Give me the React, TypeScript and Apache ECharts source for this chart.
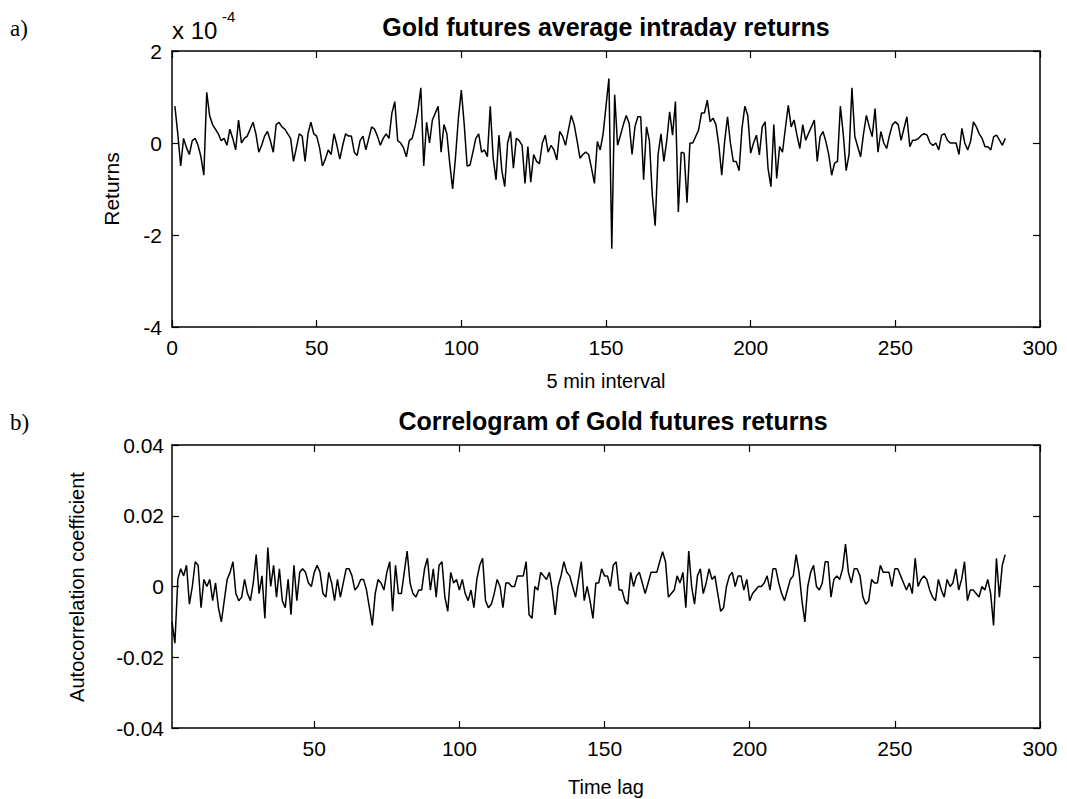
import React, { useEffect, useRef } from "react";
import * as echarts from "echarts";

// Average intraday 5-minute returns of gold futures, in units of 1e-4 (interval 1..288)
const returnsE4: number[] = [
  0.8, 0.2, -0.5, 0.1, -0.1, -0.25, 0.05, 0.1, -0.05, -0.3, -0.7, 1.1, 0.6, 0.4, 0.3, 0.2, 0.05, 0.1, -0.05, 0.3,
  0.1, -0.15, 0.5, 0.0, 0.1, 0.15, 0.3, 0.45, 0.2,
  -0.2, -0.05, 0.15, 0.25, 0.05, -0.2, 0.4, 0.45, 0.35, 0.3, 0.2, 0.1, -0.4, -0.1, 0.2, 0.15, -0.4, 0.2, 0.45, 0.2,
  0.15, -0.1, -0.5, -0.35, -0.15, -0.25, 0.2, -0.05, -0.35,
  -0.05, 0.2, 0.15, 0.15, -0.2, -0.27, 0.05, 0.15, -0.15, 0.1, 0.35, 0.3,
  0.15, -0.05, 0.1, 0.2, 0.1, 0.65, 0.9, 0.05, 0.0, -0.1, -0.3, 0.05, 0.1, 0.35, 0.7, 1.2, -0.5, 0.45, 0.0, 0.5,
  0.65, 0.8, -0.2, 0.4, 0.2, -0.45, -1.0, -0.3, 0.55, 1.15, 0.4, -0.5, -0.48, -0.2, 0.1,
  0.2, -0.2, -0.15, -0.3, 0.8, -0.33, -0.8, 0.17, -0.6, -0.95,
  0.0, 0.25, -0.55, 0.1, 0.05, -0.05, -0.88, -0.08, -0.85, -0.25, -0.4, -0.45, 0.0, 0.17, -0.2, -0.05, -0.15,
  -0.37, 0.25, 0.15, -0.05, 0.28, 0.6, 0.4, 0.05, -0.33,
  -0.25, -0.2, -0.25, -0.55, -0.88, 0.03, -0.15, 0.2, 0.8, 1.4, -2.3, 1.05, -0.05, 0.17, 0.4, 0.6, 0.43, -0.25,
  0.35, 0.57, 0.57, -0.8, 0.35, 0.05, -1.13, -1.8, -0.25, 0.2, -0.4, 0.05,
  0.68,
  0.17, 0.9, -1.5, -0.2, -0.22, -1.3, 0.0, 0.0, 0.14, 0.28, 0.65, 0.65, 0.93, 0.46, 0.54, 0.4, -0.05, -0.7, 0.03,
  0.57, 0.0, -0.4, -0.4, -0.6, 0.32, 0.8, 0.6, -0.22, 0.0, 0.17, -0.26, 0.35, 0.46, -0.55, -0.95, 0.4, -0.77,
  -0.08, -0.2, 0.32, 0.82, 0.35, 0.5, 0.17, -0.12, 0.4, 0.06, 0.21, 0.35, 0.5, -0.4, 0.14, 0.25, 0.03, -0.26,
  -0.7, -0.44,
  -0.4, 0.8, 0.2, -0.6, -0.25, 1.2, 0.14, -0.08, -0.3, 0.2, 0.6, 0.35, 0.14, 0.75, -0.2, 0.25, 0.0, -0.12, 0.17,
  0.4, 0.46, 0.4, 0.06, 0.32, 0.57, -0.08, 0.06, 0.06, 0.1, 0.17, 0.2, 0.17, 0.0, -0.05, 0.0, -0.15, 0.17, 0.2,
  0.06, 0.0, 0.0, 0.0, -0.25, 0.32, 0.0, -0.15, 0.03, 0.46, 0.35, 0.2, 0.1, -0.08, -0.08, -0.15, 0.14, 0.17,
  0.06, -0.05, 0.1,
];

// Autocorrelation coefficients of the returns, lags 1..288
const autocorr: number[] = [
  -0.010, -0.016, 0.002, 0.005, 0.003, 0.006, -0.005, 0.0, 0.007, 0.006,
  -0.006, 0.002, 0.0, 0.002, -0.004, 0.001, -0.006, -0.010, -0.004, 0.002,
  0.004, 0.007, -0.002, -0.004, -0.003, 0.002, -0.002, -0.004, 0.001, 0.009,
  -0.002, 0.003, -0.009, 0.011, 0.0, 0.006, -0.003, 0.005, -0.004, -0.006,
  0.002, -0.008, 0.006, -0.004, 0.004, 0.005, 0.004, 0.001, 0.0, 0.004,
  0.006, 0.004, -0.002, -0.003, 0.004, 0.001, -0.004, 0.002,
  -0.003, 0.001, 0.005, 0.005, 0.003, -0.001, 0.0, 0.002, 0.002, -0.001,
  -0.006, -0.011, -0.002, 0.002, 0.001, -0.001, 0.004, 0.007, -0.007, 0.006,
  -0.002, -0.002, 0.004, 0.010, 0.001, -0.002, -0.003, -0.001, -0.001, 0.005,
  0.008, -0.001, 0.005, -0.003, 0.006, 0.007, -0.003, -0.007, 0.004, 0.001,
  0.002, -0.001, 0.002, -0.002, -0.004, -0.001, -0.006, 0.002, 0.006, 0.008,
  -0.004, -0.006, -0.005, -0.002, 0.002, 0.0, -0.006,
  0.001, 0.001, 0.0, 0.0, 0.003, 0.003, 0.003, 0.007, -0.008, -0.009,
  0.0, -0.001, 0.004, 0.003, 0.002, 0.004, -0.001, -0.008, 0.0, 0.003,
  0.007, 0.004, 0.003, 0.0, -0.003, 0.002, 0.007, -0.004, 0.0, -0.004,
  -0.009, 0.001, 0.001, 0.005, 0.003, 0.003, 0.0, 0.006, 0.007, -0.001,
  -0.001, -0.004, -0.005, 0.004, 0.0, 0.003, 0.004, 0.001, -0.002, 0.001,
  0.004, 0.004, 0.004, 0.007, 0.0098, 0.007, -0.003,
  -0.002, -0.001, 0.003, 0.001, 0.004, -0.006, 0.010, 0.0, -0.005, 0.003,
  0.005, -0.002, 0.001, 0.005, 0.002, 0.003, -0.002, -0.007, -0.006, 0.0,
  0.003, 0.004, 0.0, 0.003, 0.003, -0.001, 0.002, -0.004, -0.002, -0.001,
  0.0, 0.0, 0.001, 0.003, -0.001, 0.005, 0.005, 0.001, -0.002, -0.004,
  -0.001, 0.002, 0.003, 0.009, 0.004, -0.004, -0.010, 0.0, 0.004, 0.006,
  0.0, -0.001, 0.001, 0.007, 0.007, -0.003, 0.002,
  0.003, 0.002, 0.005, 0.012, 0.004, 0.001, 0.005, 0.005, 0.003, -0.003,
  -0.005, -0.004, 0.002, 0.001, 0.001, 0.006, 0.004, 0.004, 0.004, 0.0,
  0.005, 0.005, 0.003, 0.001, -0.001, 0.001, -0.002, 0.008, 0.0, 0.002,
  0.003, 0.002, -0.001, -0.003, -0.004, 0.002, -0.001, -0.003, 0.002, 0.0,
  0.001, 0.005, -0.001, 0.002, 0.007, -0.004, -0.001, -0.001, -0.002, -0.003,
  0.0, -0.001, 0.002, -0.002, -0.011, 0.008, -0.003, 0.006, 0.009,
];

const lagTicks: number[] = [50, 100, 150, 200, 250, 300];

const SANS = "'Liberation Sans', Arial, sans-serif";
const SERIF = "'Liberation Serif', 'Times New Roman', serif";

function label(text: string, x: number, y: number, extra: any = {}) {
  return {
    type: "text",
    x,
    y,
    rotation: extra.rotation || 0,
    silent: true,
    style: {
      text,
      fill: "#000",
      fontFamily: extra.fontFamily || SANS,
      fontSize: extra.fontSize || 20,
      fontWeight: extra.fontWeight || "normal",
      align: extra.align || "center",
      verticalAlign: "middle",
    },
  };
}

const axisLine = { show: true, onZero: false, lineStyle: { color: "#000", width: 1.5 } };
const tickStyle = { show: true, inside: true, length: 7, lineStyle: { color: "#000", width: 1.2 } };
const tickLabel = { color: "#000", fontFamily: SANS, fontSize: 21 };

export default function App() {
  const ref = useRef<HTMLDivElement>(null);

  useEffect(() => {
    if (!ref.current) return;
    const chart = echarts.init(ref.current, undefined, { renderer: "svg" });

    const retData = returnsE4.map((v, i) => [i + 1, v]);
    const acData = autocorr.map((v, i) => [i + 1, v]);

    const fmtCorr = (v: number) => {
      const s = (+v).toFixed(2);
      return s === "0.00" || s === "-0.00" ? "0" : s;
    };

    chart.setOption({
      animation: false,
      backgroundColor: "#fff",
      grid: [
        { left: 172, top: 51, width: 868, height: 276, containLabel: false },
        { left: 172, top: 445, width: 868, height: 283, containLabel: false },
      ],
      xAxis: [
        {
          gridIndex: 0, type: "value", min: 0, max: 300, interval: 50,
          axisLine, axisTick: tickStyle, splitLine: { show: false },
          axisLabel: { ...tickLabel, margin: 10 },
        },
        {
          gridIndex: 0, type: "value", position: "top", min: 0, max: 300, interval: 50,
          axisLine, axisTick: tickStyle, splitLine: { show: false }, axisLabel: { show: false },
        },
        {
          gridIndex: 1, type: "value", min: 1, max: 300,
          axisLine,
          axisTick: { ...tickStyle, customValues: lagTicks },
          splitLine: { show: false },
          axisLabel: { ...tickLabel, margin: 10, customValues: lagTicks },
        },
        {
          gridIndex: 1, type: "value", position: "top", min: 1, max: 300,
          axisLine,
          axisTick: { ...tickStyle, customValues: lagTicks },
          splitLine: { show: false },
          axisLabel: { show: false },
        },
      ],
      yAxis: [
        {
          gridIndex: 0, type: "value", min: -4, max: 2, interval: 2,
          axisLine, axisTick: tickStyle, splitLine: { show: false },
          axisLabel: { ...tickLabel, margin: 10 },
        },
        {
          gridIndex: 0, type: "value", position: "right", min: -4, max: 2, interval: 2,
          axisLine, axisTick: tickStyle, splitLine: { show: false }, axisLabel: { show: false },
        },
        {
          gridIndex: 1, type: "value", min: -0.04, max: 0.04, interval: 0.02,
          axisLine, axisTick: tickStyle, splitLine: { show: false },
          axisLabel: { ...tickLabel, margin: 8, formatter: fmtCorr },
        },
        {
          gridIndex: 1, type: "value", position: "right", min: -0.04, max: 0.04, interval: 0.02,
          axisLine, axisTick: tickStyle, splitLine: { show: false }, axisLabel: { show: false },
        },
      ],
      series: [
        {
          type: "line", xAxisIndex: 0, yAxisIndex: 0, data: retData,
          symbol: "none", showSymbol: false, lineStyle: { color: "#000", width: 1.5 },
        },
        {
          type: "line", xAxisIndex: 2, yAxisIndex: 2, data: acData,
          symbol: "none", showSymbol: false, lineStyle: { color: "#000", width: 1.5 },
        },
      ],
      graphic: [
        label("a)", 10, 28, { fontFamily: SERIF, fontSize: 23, align: "left" }),
        label("b)", 10, 422, { fontFamily: SERIF, fontSize: 23, align: "left" }),
        label("Gold futures average intraday returns", 606, 27, { fontWeight: "bold", fontSize: 25 }),
        label("Correlogram of Gold futures returns", 613, 421, { fontWeight: "bold", fontSize: 25 }),
        label("x 10", 172, 30, { align: "left", fontSize: 24 }),
        label("-4", 222, 16, { align: "left", fontSize: 15 }),
        label("Returns", 111, 189, { rotation: Math.PI / 2, fontSize: 21 }),
        label("5 min interval", 606, 381, { fontSize: 20 }),
        label("Autocorrelation coefficient", 77, 587, { rotation: Math.PI / 2, fontSize: 20 }),
        label("Time lag", 606, 787, { fontSize: 20 }),
      ],
    });

    return () => chart.dispose();
  }, []);

  return (
    <div
      ref={ref}
      style={{ position: "fixed", left: 0, top: 0, width: 1067, height: 799, background: "#fff" }}
    />
  );
}
